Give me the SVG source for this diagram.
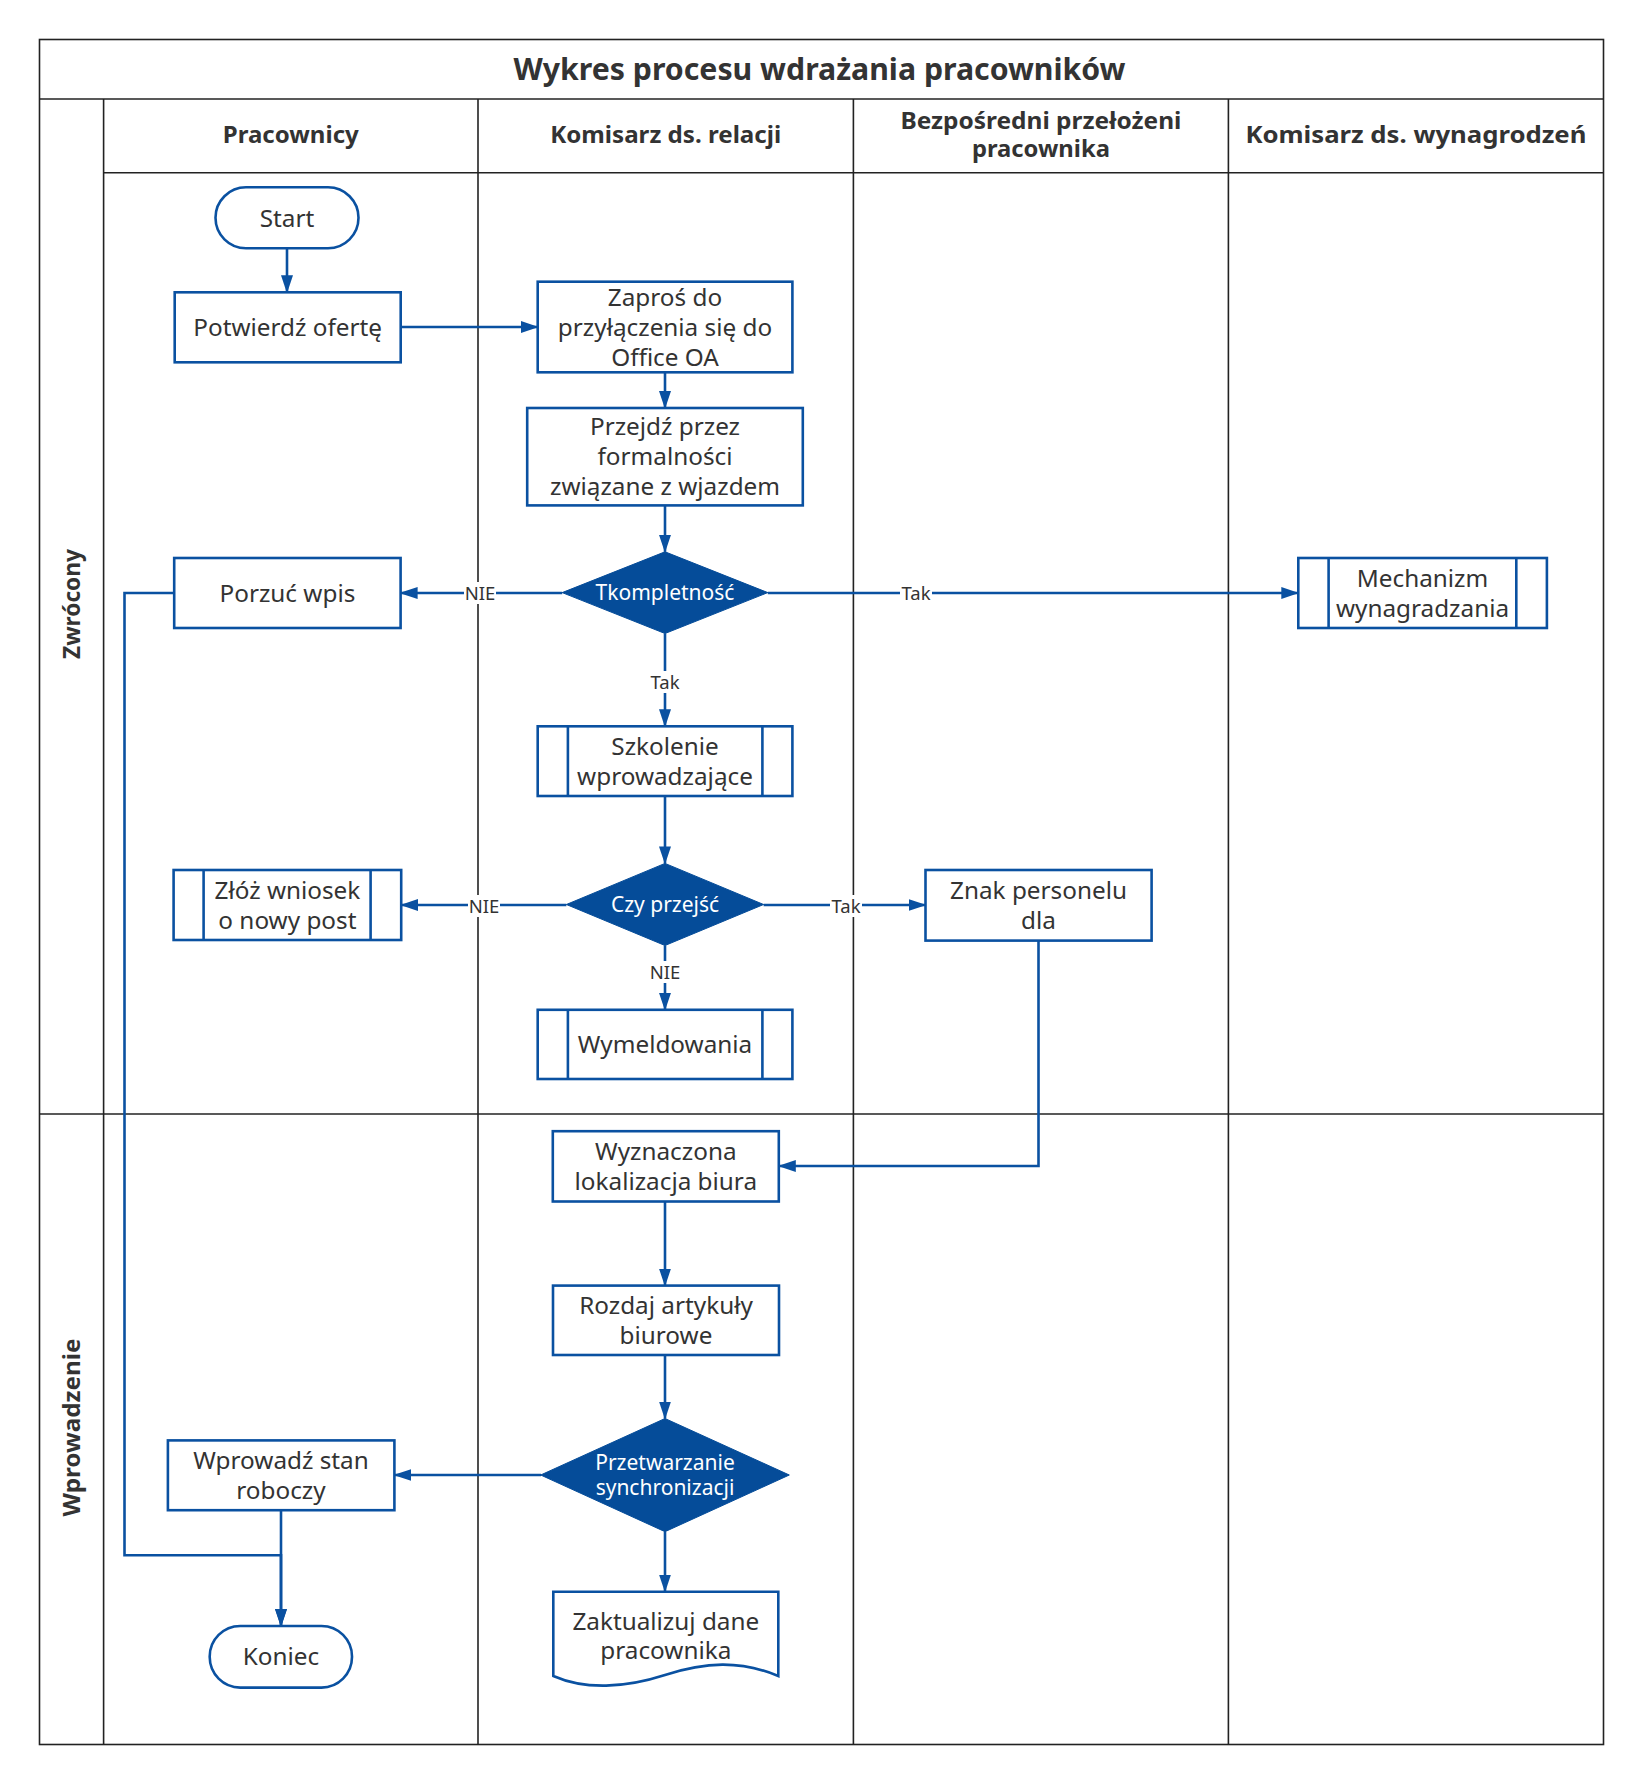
<svg xmlns="http://www.w3.org/2000/svg" width="1639" height="1780" viewBox="0 0 1639 1780">
<style>
.lane{fill:none;stroke:#222;stroke-width:1.6}
.node{fill:#fff;stroke:#0a51a1;stroke-width:2.6}
.dia{fill:#054c99;stroke:#054c99;stroke-width:1}
.con{fill:none;stroke:#0a51a1;stroke-width:2.6}
.t{font-family:"Noto Sans","Open Sans",sans-serif;font-size:24.3px;fill:#333;text-anchor:middle}
.td{font-family:"Noto Sans","Open Sans",sans-serif;font-size:21px;fill:#fff;text-anchor:middle}
.tl{font-family:"Noto Sans","Open Sans",sans-serif;font-size:18.5px;fill:#333;text-anchor:middle}
.th{font-family:"Noto Sans","Open Sans",sans-serif;font-size:23.5px;font-weight:bold;fill:#333;text-anchor:middle}
.tt{font-family:"Noto Sans","Open Sans",sans-serif;font-size:30.5px;font-weight:bold;fill:#333;text-anchor:middle}
.lbg{fill:#fff}
</style>
<defs>
<marker id="arr" markerUnits="userSpaceOnUse" markerWidth="18" markerHeight="12" refX="17" refY="6" orient="auto">
<path d="M0,0 L18,6 L0,12 z" fill="#0a51a1"/>
</marker>
</defs>
<rect width="1639" height="1780" fill="#fff"/>
<g id="pool">
<rect class="lane" x="39.5" y="39.5" width="1564" height="1705"/>
<line class="lane" x1="39.5" y1="99" x2="1603.5" y2="99"/>
<line class="lane" x1="103.6" y1="99" x2="103.6" y2="1744.5"/>
<line class="lane" x1="103.6" y1="172.7" x2="1603.5" y2="172.7"/>
<line class="lane" x1="478" y1="99" x2="478" y2="1744.5"/>
<line class="lane" x1="853.4" y1="99" x2="853.4" y2="1744.5"/>
<line class="lane" x1="1228.4" y1="99" x2="1228.4" y2="1744.5"/>
<line class="lane" x1="39.5" y1="1114" x2="1603.5" y2="1114"/>
<text class="tt" x="819.5" y="80" textLength="612" lengthAdjust="spacingAndGlyphs">Wykres procesu wdrażania pracowników</text>
<text class="th" x="290.8" y="143" textLength="136" lengthAdjust="spacingAndGlyphs">Pracownicy</text>
<text class="th" x="665.7" y="143" textLength="231" lengthAdjust="spacingAndGlyphs">Komisarz ds. relacji</text>
<text class="th" x="1040.9" y="128.5" textLength="281" lengthAdjust="spacingAndGlyphs">Bezpośredni przełożeni</text>
<text class="th" x="1040.9" y="157" textLength="138" lengthAdjust="spacingAndGlyphs">pracownika</text>
<text class="th" x="1415.9" y="143" textLength="341" lengthAdjust="spacingAndGlyphs">Komisarz ds. wynagrodzeń</text>
<text class="th" transform="translate(72,604) rotate(-90)" x="0" y="8" textLength="110" lengthAdjust="spacingAndGlyphs">Zwrócony</text>
<text class="th" transform="translate(72,1427.5) rotate(-90)" x="0" y="8" textLength="178" lengthAdjust="spacingAndGlyphs">Wprowadzenie</text>
</g>
<g id="connectors">
<path class="con" d="M287,248.5 V292.3" marker-end="url(#arr)"/>
<path class="con" d="M401,327 H537.7" marker-end="url(#arr)"/>
<path class="con" d="M665,372.3 V408" marker-end="url(#arr)"/>
<path class="con" d="M665,505.4 V551.8" marker-end="url(#arr)"/>
<path class="con" d="M562.2,593 H400.6" marker-end="url(#arr)"/>
<path class="con" d="M767.8,593 H1298.3" marker-end="url(#arr)"/>
<path class="con" d="M665,633.5 V726.3" marker-end="url(#arr)"/>
<path class="con" d="M665,796 V863.4" marker-end="url(#arr)"/>
<path class="con" d="M566.4,905 H401.2" marker-end="url(#arr)"/>
<path class="con" d="M763.6,905 H925.5" marker-end="url(#arr)"/>
<path class="con" d="M665,945.5 V1009.8" marker-end="url(#arr)"/>
<path class="con" d="M1038.5,940.6 V1166 H778.8" marker-end="url(#arr)"/>
<path class="con" d="M665,1201.5 V1285.6" marker-end="url(#arr)"/>
<path class="con" d="M665,1355 V1418.5" marker-end="url(#arr)"/>
<path class="con" d="M541,1475 H394.4" marker-end="url(#arr)"/>
<path class="con" d="M665,1532 V1591.5" marker-end="url(#arr)"/>
<path class="con" d="M281,1510.2 V1626" marker-end="url(#arr)"/>
<path class="con" d="M174.2,593 H124.5 V1555.3 H281 V1626" marker-end="url(#arr)"/>
<rect class="lbg" x="464" y="582" width="32" height="22"/>
<text class="tl" x="480" y="599.5">NIE</text>
<rect class="lbg" x="900" y="582" width="32" height="22"/>
<text class="tl" x="916" y="599.5">Tak</text>
<rect class="lbg" x="649" y="671" width="32" height="22"/>
<text class="tl" x="665" y="688.5">Tak</text>
<rect class="lbg" x="468" y="895" width="32" height="22"/>
<text class="tl" x="484" y="912.5">NIE</text>
<rect class="lbg" x="830" y="895" width="32" height="22"/>
<text class="tl" x="846" y="912.5">Tak</text>
<rect class="lbg" x="649" y="961" width="32" height="22"/>
<text class="tl" x="665" y="978.5">NIE</text>
</g>
<g id="start">
<rect class="node" x="215.5" y="187.3" width="143" height="61" rx="30.5"/>
<text class="t" x="287" y="226.5">Start</text>
</g>
<g id="potwierdz">
<rect class="node" x="174.7" y="292.3" width="226" height="70"/>
<text class="t" x="287.7" y="335.5">Potwierdź ofertę</text>
</g>
<g id="zapros">
<rect class="node" x="537.7" y="281.7" width="254.7" height="90.6"/>
<text class="t" x="665" y="305.5">Zaproś do</text>
<text class="t" x="665" y="335.5">przyłączenia się do</text>
<text class="t" x="665" y="365.5">Office OA</text>
</g>
<g id="przejdz">
<rect class="node" x="527.2" y="408" width="275.6" height="97.4"/>
<text class="t" x="665" y="435">Przejdź przez</text>
<text class="t" x="665" y="465">formalności</text>
<text class="t" x="665" y="495">związane z wjazdem</text>
</g>
<g id="tkompletnosc">
<path class="dia" d="M665,551.8 L767.8,592.6 L665,633.5 L562.2,592.6 Z"/>
<text class="td" x="665" y="600">Tkompletność</text>
</g>
<g id="porzuc">
<rect class="node" x="174.2" y="558" width="226.4" height="70"/>
<text class="t" x="287.4" y="601.5">Porzuć wpis</text>
</g>
<g id="mechanizm">
<rect class="node" x="1298.3" y="558" width="248.6" height="70"/>
<line class="node" x1="1328.6" y1="558" x2="1328.6" y2="628"/>
<line class="node" x1="1516.3" y1="558" x2="1516.3" y2="628"/>
<text class="t" x="1422.5" y="586.5">Mechanizm</text>
<text class="t" x="1422.5" y="616.5">wynagradzania</text>
</g>
<g id="szkolenie">
<rect class="node" x="537.7" y="726.3" width="254.7" height="69.7"/>
<line class="node" x1="567.9" y1="726.3" x2="567.9" y2="796"/>
<line class="node" x1="762.4" y1="726.3" x2="762.4" y2="796"/>
<text class="t" x="665" y="754.5">Szkolenie</text>
<text class="t" x="665" y="784.5">wprowadzające</text>
</g>
<g id="czy-przejsc">
<path class="dia" d="M665,863.4 L763.6,904.5 L665,945.5 L566.4,904.5 Z"/>
<text class="td" x="665" y="912">Czy przejść</text>
</g>
<g id="zloz">
<rect class="node" x="173.6" y="870" width="227.6" height="70"/>
<line class="node" x1="203.6" y1="870" x2="203.6" y2="940"/>
<line class="node" x1="370.6" y1="870" x2="370.6" y2="940"/>
<text class="t" x="287.4" y="898.5">Złóż wniosek</text>
<text class="t" x="287.4" y="928.5">o nowy post</text>
</g>
<g id="znak">
<rect class="node" x="925.5" y="870" width="226.1" height="70.6"/>
<text class="t" x="1038.5" y="898.5">Znak personelu</text>
<text class="t" x="1038.5" y="928.5">dla</text>
</g>
<g id="wymeldowania">
<rect class="node" x="537.7" y="1009.8" width="254.7" height="69.2"/>
<line class="node" x1="567.9" y1="1009.8" x2="567.9" y2="1079"/>
<line class="node" x1="762.4" y1="1009.8" x2="762.4" y2="1079"/>
<text class="t" x="665" y="1053">Wymeldowania</text>
</g>
<g id="wyznaczona">
<rect class="node" x="552.8" y="1131.2" width="226" height="70.3"/>
<text class="t" x="665.8" y="1159.5">Wyznaczona</text>
<text class="t" x="665.8" y="1189.5">lokalizacja biura</text>
</g>
<g id="rozdaj">
<rect class="node" x="553" y="1285.6" width="226" height="69.4"/>
<text class="t" x="666" y="1313.5">Rozdaj artykuły</text>
<text class="t" x="666" y="1343.5">biurowe</text>
</g>
<g id="przetwarzanie">
<path class="dia" d="M665,1418.5 L789.3,1475 L665,1531.7 L540.7,1475 Z"/>
<text class="td"><tspan x="665" y="1470">Przetwarzanie</tspan><tspan x="665" y="1495">synchronizacji</tspan></text>
</g>
<g id="wprowadz">
<rect class="node" x="167.9" y="1440.4" width="226.5" height="69.8"/>
<text class="t" x="281" y="1468.5">Wprowadź stan</text>
<text class="t" x="281" y="1498.5">roboczy</text>
</g>
<g id="koniec">
<rect class="node" x="209.7" y="1626" width="142.3" height="61.6" rx="30.5"/>
<text class="t" x="281" y="1665">Koniec</text>
</g>
<g id="zaktualizuj">
<path class="node" d="M553.3,1591.7 H778.3 V1676 C740,1660 705,1662 665,1675 C625,1688 585,1690 553.3,1676 Z"/>
<text class="t" x="665.8" y="1629.5">Zaktualizuj dane</text>
<text class="t" x="665.8" y="1658.5">pracownika</text>
</g>
</svg>
